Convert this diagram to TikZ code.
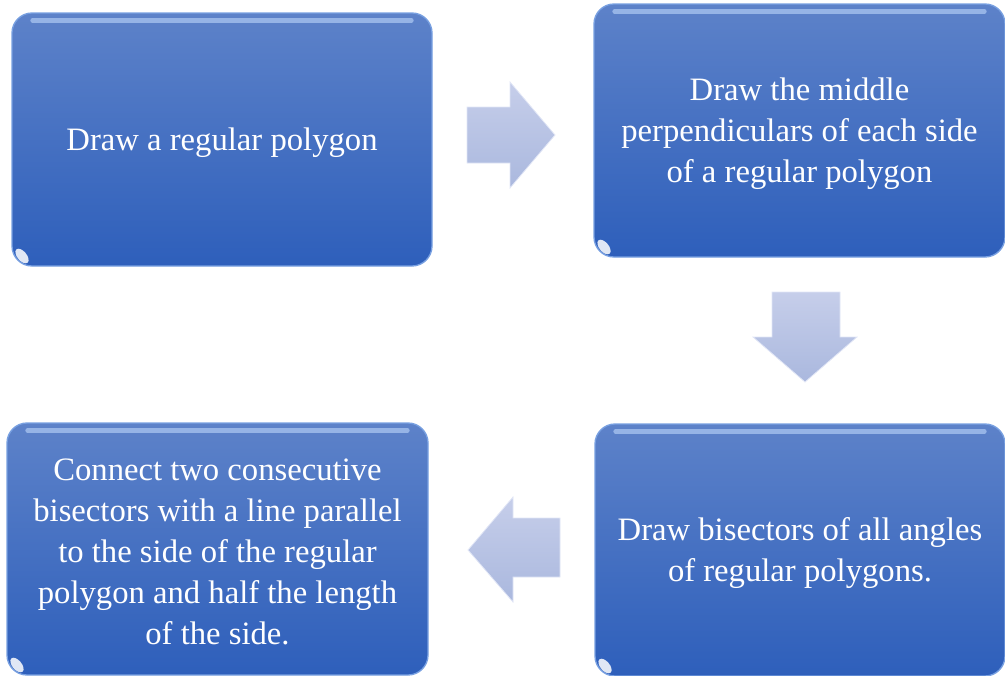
\documentclass[tikz,border=0pt]{standalone}
\usepackage{fontspec}
\setmainfont{Liberation Serif}
\definecolor{boxtop}{RGB}{93,130,201}
\definecolor{boxbot}{RGB}{46,95,187}
\definecolor{boxedge}{RGB}{120,160,225}
\definecolor{shinecol}{RGB}{190,215,250}
\definecolor{arrtop}{RGB}{198,206,234}
\definecolor{arrbot}{RGB}{170,184,222}
\definecolor{arredge}{RGB}{225,230,246}
\tikzset{
  box/.style={rectangle, rounded corners=15pt, top color=boxtop, bottom color=boxbot,
    draw=boxedge, line width=1pt, inner sep=0pt},
  boxtext/.style={text=white, align=center, inner sep=0pt,
    font=\fontsize{24.5pt}{30.75pt}\selectfont},
  blockarrow/.style={top color=arrtop, bottom color=arrbot, draw=arredge, line width=0.6pt, line join=miter},
  shine/.style={draw=shinecol, line width=3.5pt, opacity=0.6, line cap=round},
  glint/.style={fill=white, opacity=0.85}
}
\begin{document}
\begin{tikzpicture}[x=0.75pt,y=-0.75pt]
\useasboundingbox (0,0) rectangle (1005,675);
% boxes
\node[box, minimum width=315pt, minimum height=189.75pt] (b1) at (222,139.5) {};
\node[box, minimum width=308.25pt, minimum height=189.75pt] (b2) at (799.5,130.5) {};
\node[box, minimum width=307.5pt, minimum height=189pt] (b3) at (800,550) {};
\node[box, minimum width=315.75pt, minimum height=189pt] (b4) at (217.5,549) {};
% top shine and corner glints
\foreach \b in {b1,b2,b3,b4}{
  \draw[shine] ([xshift=16pt,yshift=-6pt]\b.north west) -- ([xshift=-16pt,yshift=-6pt]\b.north east);
  \fill[glint] ([xshift=8pt,yshift=8pt]\b.south west) ellipse [x radius=6.5pt, y radius=3.5pt, rotate=-50];
}
% texts
\node[boxtext] (t1) at ([yshift=-2.5pt]b1.center) {Draw a regular polygon};
\node[boxtext] (t2) at ([yshift=-2.5pt]b2.center) {Draw the middle\\perpendiculars of each side\\of a regular polygon};
\node[boxtext] (t3) at ([yshift=-2.5pt]b3.center) {Draw bisectors of all angles\\of regular polygons.};
\node[boxtext] (t4) at ([yshift=-2.5pt]b4.center) {Connect two consecutive\\bisectors with a line parallel\\to the side of the regular\\polygon and half the length\\of the side.};
% arrows
\path[blockarrow] (467,107) -- (510,107) -- (510,82) -- (555,135) -- (510,188) -- (510,163) -- (467,163) -- cycle;
\path[blockarrow] (772,292) -- (840,292) -- (840,337) -- (857,337) -- (805,382) -- (753,337) -- (772,337) -- cycle;
\path[blockarrow] (560,518) -- (513,518) -- (513,497) -- (468,550) -- (513,602) -- (513,577) -- (560,577) -- cycle;
\end{tikzpicture}
\end{document}
